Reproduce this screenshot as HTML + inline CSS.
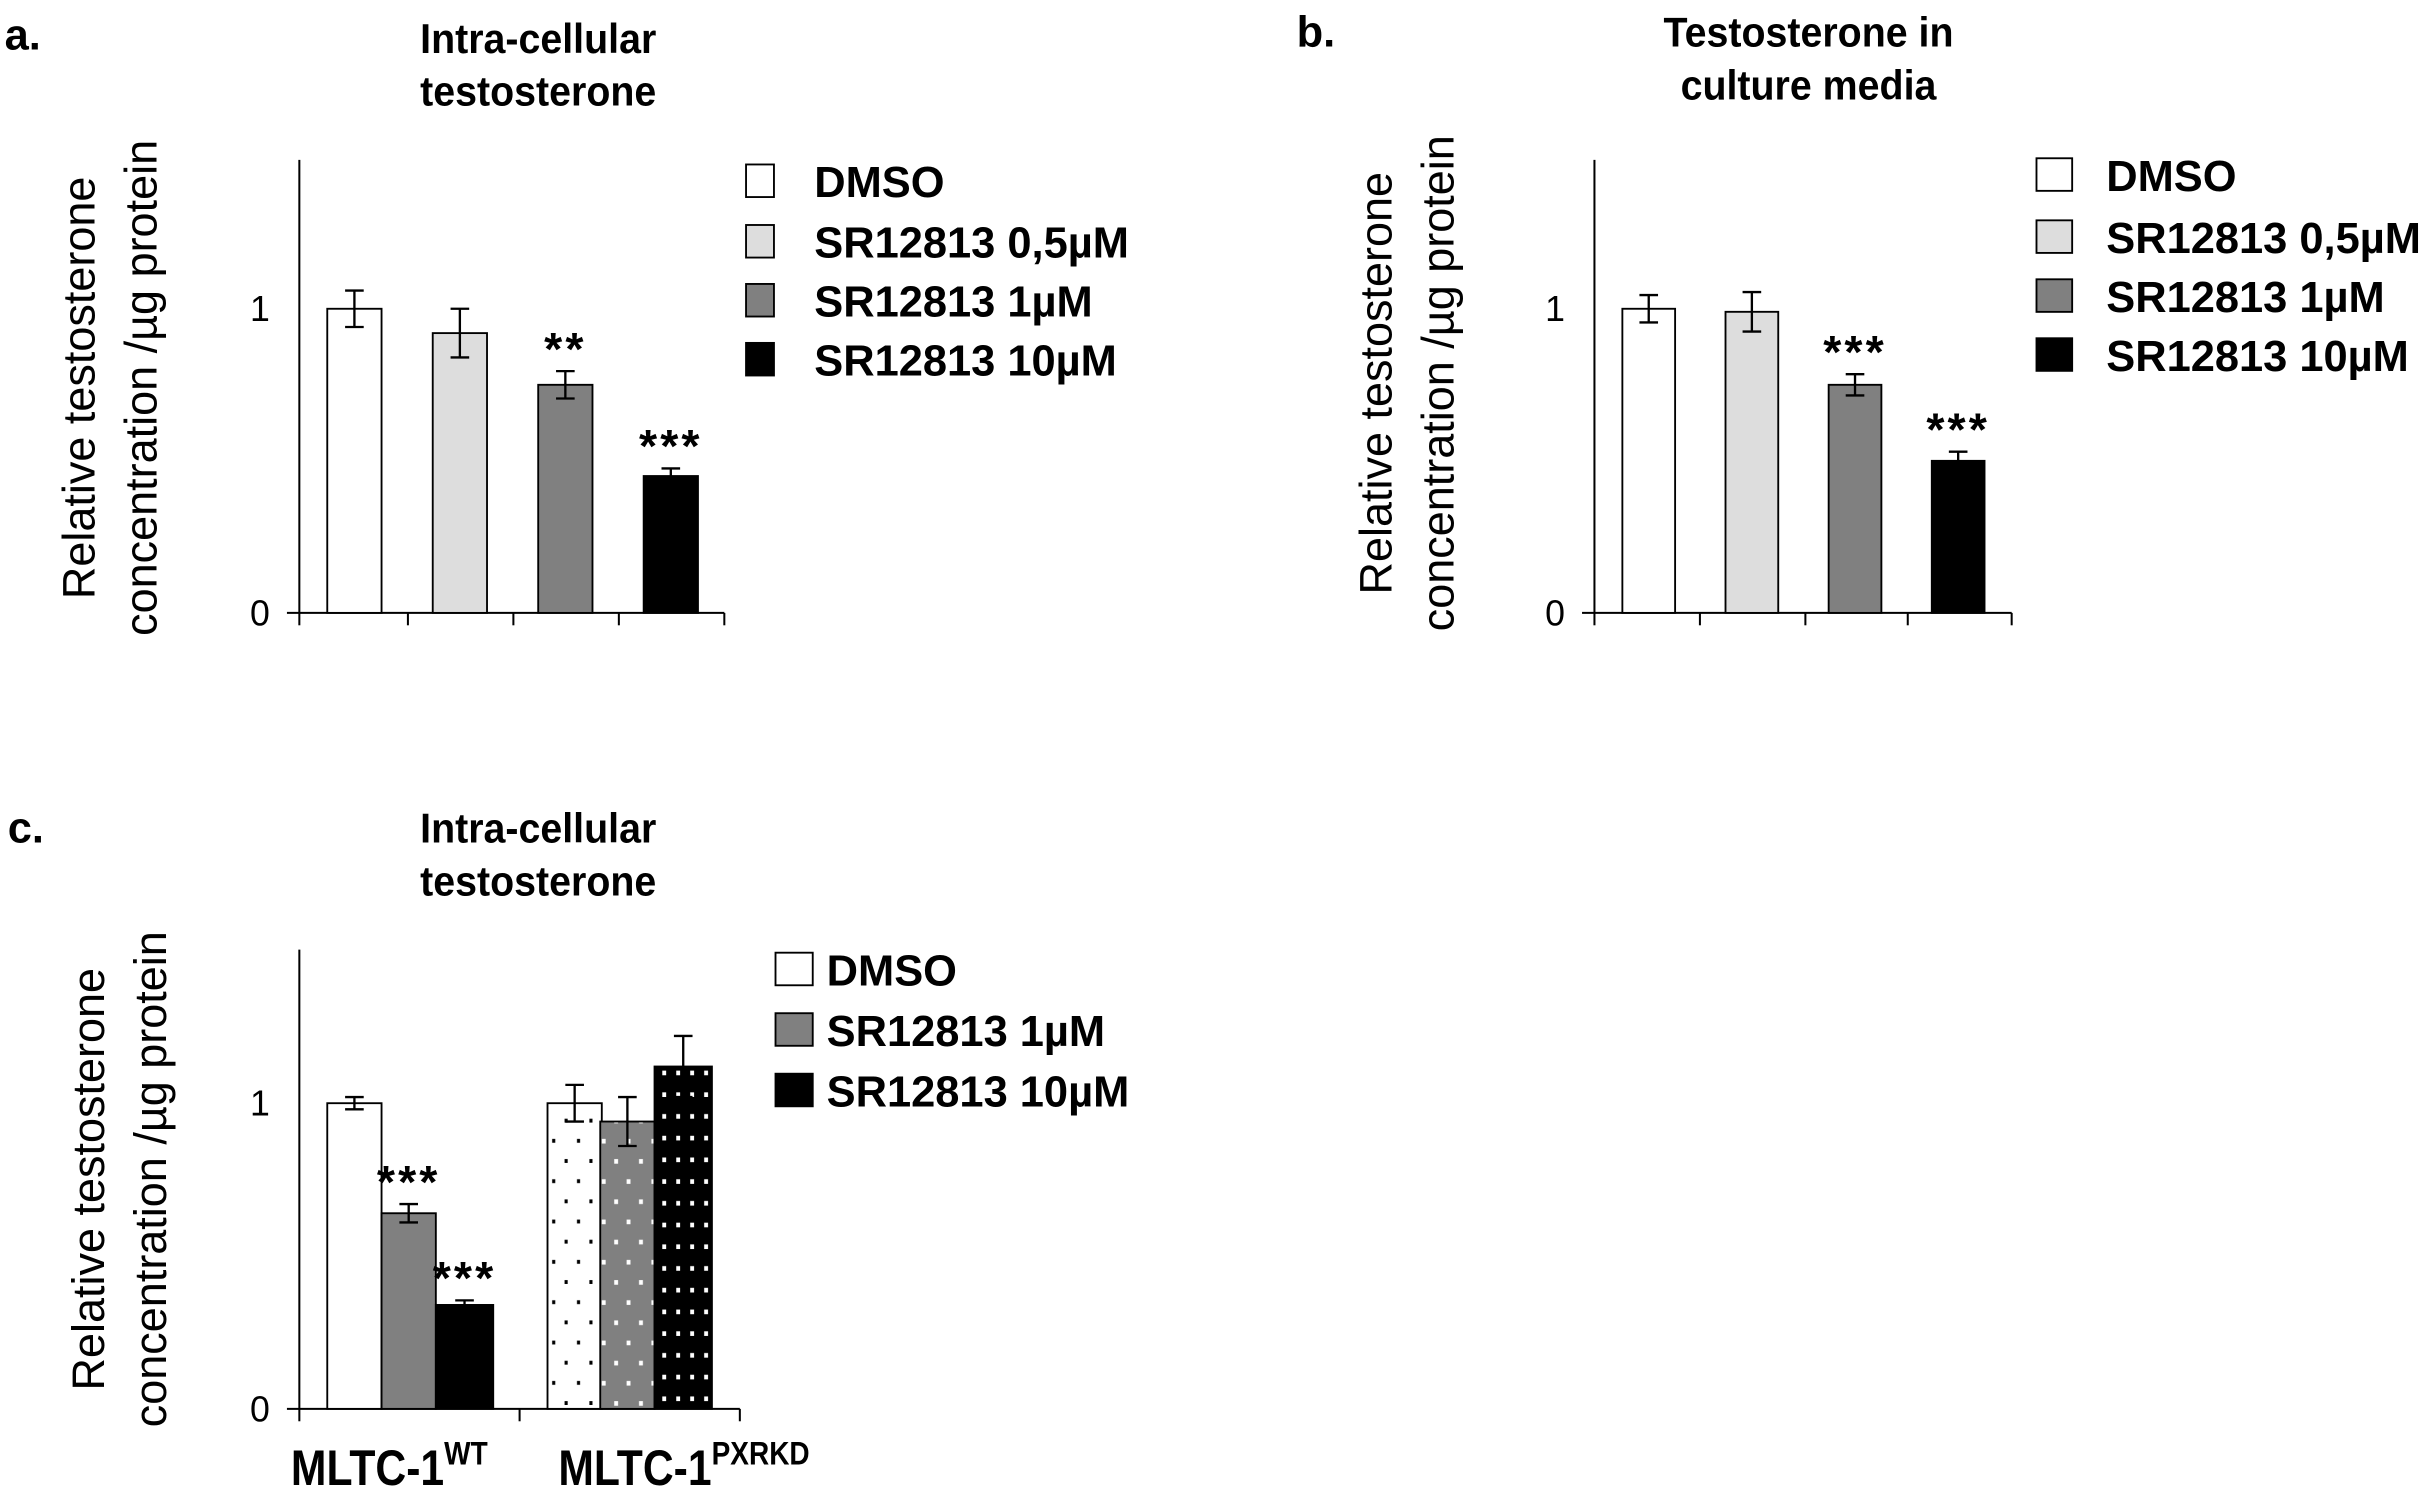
<!DOCTYPE html>
<html><head><meta charset="utf-8"><style>
html,body{margin:0;padding:0;background:#fff;}
svg{display:block;}
.t{font-family:"Liberation Sans Narrow","Liberation Sans",sans-serif;font-weight:bold;fill:#000;}
.r{font-family:"Liberation Sans",sans-serif;fill:#000;}
</style></head><body>
<svg id="fig" width="2432" height="1488" viewBox="0 0 1568 959" preserveAspectRatio="none" xmlns="http://www.w3.org/2000/svg">
<defs>
<pattern id="dotW" width="16" height="26" patternUnits="userSpaceOnUse"><rect width="16" height="26" fill="#fff"/><rect x="4" y="6" width="2" height="2.5" fill="#000"/><rect x="12" y="19" width="2" height="2.5" fill="#000"/></pattern>
<pattern id="dotG" width="16" height="26" patternUnits="userSpaceOnUse"><rect width="16" height="26" fill="#808080"/><rect x="4" y="6" width="2.5" height="3" fill="#fff"/><rect x="12" y="19" width="2.5" height="3" fill="#fff"/></pattern>
<pattern id="dotK" width="18" height="14" patternUnits="userSpaceOnUse"><rect width="18" height="14" fill="#000"/><rect x="4" y="4" width="2.5" height="3" fill="#fff"/><rect x="13" y="4" width="2.5" height="3" fill="#fff"/></pattern>
</defs>
</svg>
<script>
// Panel a data
const catsA = ["DMSO","SR12813 0,5µM","SR12813 1µM","SR12813 10µM"];
const valsA = [1.0, 0.92, 0.75, 0.45];
const errsA = [0.06, 0.08, 0.045, 0.025];
const starsA = ["", "", "**", "***"];
// Panel b data
const valsB = [1.0, 0.99, 0.75, 0.50];
const errsB = [0.045, 0.065, 0.035, 0.03];
const starsB = ["", "", "***", "***"];
// Panel c data
const groupsC = ["MLTC-1WT","MLTC-1PXRKD"];
const catsC = ["DMSO","SR12813 1µM","SR12813 10µM"];
const valsC = [1.0, 0.64, 0.34, 1.0, 0.94, 1.12];
const errsC = [0.02, 0.03, 0.015, 0.06, 0.08, 0.10];
const starsC = ["", "***", "***", "", "", ""];
const yTicks = [0, 1];

const NS="http://www.w3.org/2000/svg";
const svg=document.getElementById('fig');
function mk(tag,attrs,parent){const e=document.createElementNS(NS,tag);for(const k in attrs)e.setAttribute(k,attrs[k]);(parent||svg).appendChild(e);return e;}
function txt(s,attrs,parent){const e=mk('text',attrs,parent);e.textContent=s;return e;}

function axes(g,ax,zeroY,oneY,top,tickXs){
  const y=v=>zeroY-(zeroY-oneY)*v;
  const yl=mk('line',{x1:ax,y1:top,x2:ax,y2:zeroY,stroke:'#000','stroke-width':1.3},g);
  
  const xl=mk('line',{x1:ax-8,y1:zeroY,x2:tickXs[tickXs.length-1],y2:zeroY,stroke:'#000','stroke-width':1.3},g);
  
  tickXs.forEach(tx=>{const t=mk('line',{x1:tx,y1:zeroY,x2:tx,y2:zeroY+8,stroke:'#000','stroke-width':1.3},g);
    });
  yTicks.forEach(v=>{const t=txt(String(v),{x:ax-19,y:y(v)+8,'font-size':23,'text-anchor':'end',class:'r'},g);
    });
  return y;
}
function bar(g,x0,w,v,e,fill,y,star){
  const b=mk('rect',{x:x0,y:y(v),width:w,height:y(0)-y(v),fill:fill,stroke:'#000','stroke-width':1.2},g);
  
  const cx=x0+w/2;
  const eb=mk('path',{d:`M${cx},${y(v+e)}V${y(v-e)}M${cx-6},${y(v+e)}H${cx+6}M${cx-6},${y(v-e)}H${cx+6}`,stroke:'#000','stroke-width':1.5,fill:'none'},g);
  
  if(star){const s=txt(star,{x:cx,y:y(v+e)-4,'font-size':30,'text-anchor':'middle',class:'t','letter-spacing':'2'},g);
    }
}
function ylabel(g,cx,cy){
  const t=txt('',{transform:`translate(${cx},${cy}) rotate(-90)`,'font-size':29,'text-anchor':'middle',class:'r'},g);
  
  const a=mk('tspan',{x:0,y:-12},t);a.textContent='Relative testosterone';
  const b=mk('tspan',{x:0,y:28},t);b.textContent='concentration /µg protein';
}
function title(g,cx,y1,l1,l2){
  const t=txt(l1,{transform:`translate(${cx},${y1}) scale(0.94,1)`,'font-size':27,'text-anchor':'middle',class:'t'},g);
  
  const t2=txt(l2,{transform:`translate(${cx},${y1+34}) scale(0.94,1)`,'font-size':27,'text-anchor':'middle',class:'t'},g);
  
}
function legend(g,bx,tx,ys,labels,fills,bw){
  labels.forEach((l,i)=>{
    const r=mk('rect',{x:bx,y:ys[i]-11,width:bw,height:21,fill:fills[i],stroke:'#000','stroke-width':1.2},g);
    
    const t=txt(l,{x:tx,y:ys[i]+10,'font-size':28,class:'t'},g);
    
  });
}
const fills4=['#fff','#ddd','#808080','#000'];

// Panel a
const ga=mk('g',{});
const la=txt('a.',{x:3,y:32,'font-size':28,class:'t'},ga);
title(ga,347,34,'Intra-cellular','testosterone');
const ya=axes(ga,193,395,199,103,[193,263,331,399,467]);
valsA.forEach((v,i)=>bar(ga,211+i*68,35,v,errsA[i],fills4[i],ya,starsA[i]));
ylabel(ga,73,250);
legend(ga,481,525,[117,156,194,232],catsA,fills4,18);

// Panel b
const gb=mk('g',{});
const lb=txt('b.',{x:836,y:30,'font-size':28,class:'t'},gb);
title(gb,1166,30,'Testosterone in','culture media');
const yb=axes(gb,1028,395,199,103,[1028,1096,1164,1230,1297]);
valsB.forEach((v,i)=>bar(gb,1046+i*66.5,34,v,errsB[i],fills4[i],yb,starsB[i]));
ylabel(gb,909,247);
legend(gb,1313,1358,[113,153,191,229],catsA,fills4,23);

// Panel c
const gc=mk('g',{});
const lc=txt('c.',{x:5,y:543,'font-size':28,class:'t'},gc);
title(gc,347,543,'Intra-cellular','testosterone');
const yc=axes(gc,193,908,711,612,[193,335,477]);
const fillsC=['#fff','#808080','#000','url(#dotW)','url(#dotG)','url(#dotK)'];
const xsC=[211,246,281,353,387,422];
valsC.forEach((v,i)=>bar(gc,xsC[i],i==2||i==5?37:35,v,errsC[i],fillsC[i],yc,starsC[i]));
ylabel(gc,79,760);
legend(gc,500,533,[625,664,703],catsC,['#fff','#808080','#000'],24);
groupsC.forEach((gname,i)=>{
  const cx=[251,441][i];
  const t=txt('',{transform:`translate(${cx},957) scale(0.86,1)`,'font-size':32,'text-anchor':'middle',class:'t'},gc);
  
  const a=mk('tspan',{},t);a.textContent='MLTC-1';
  const b=mk('tspan',{dy:-13,'font-size':21},t);b.textContent=gname.slice(6);
});
</script>
</body></html>
